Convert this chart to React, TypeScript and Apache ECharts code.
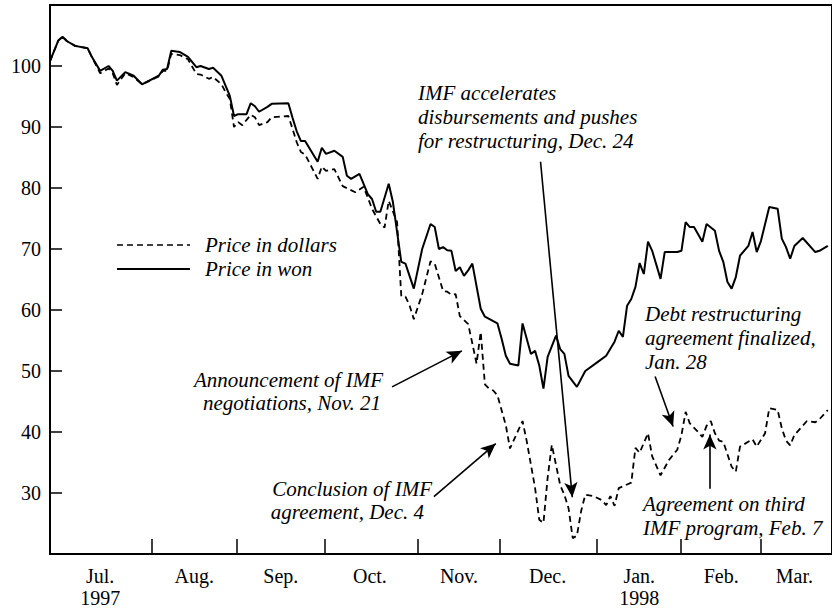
import React, { useEffect, useRef } from "react";
import * as echarts from "echarts";

// Trading-day index (0 = start of July 1997) and index value
const wonDays = [0,2,3,4,6,9,10,12,14,15,16,18,20,22,26,27,28,29,31,33,35,36,38,39,41,43,44,45,47,48,49,50,52,53,57,58,59,60,61,64,65,66,68,70,71,72,74,76,77,78,79,81,82,84,85,87,89,91,92,93,94,95,96,97,98,99,100,101,103,104,107,108,109,110,112,113,115,116,117,118,119,121,122,123,124,126,128,131,133,135,136,137,138,139,140,141,142,143,144,146,147,150,151,152,153,154,156,157,159,160,161,162,163,164,165,167,168,169,170,171,172,174,175,176,177,178,180,183,184,186];
const wonValues = [100.8,104.2,104.8,104.1,103.3,102.9,101.5,99.2,100,99.2,97.6,99,98.4,97,98.4,99.4,99.5,102.5,102.3,101.5,99.8,100,99.5,99.7,98.4,95.1,91.8,92.1,92.1,93.9,93.4,92.5,93.3,93.8,93.9,91.5,89.3,87.7,87.7,84.3,86.6,85.6,86.1,85.1,82,81.5,82.3,79,78.2,76.1,76.1,80.7,77.7,67.9,67.6,63.5,70,74.1,73.6,70,70.3,69.8,69.7,66.4,67,65.6,66.5,67.6,60.2,58.9,57.8,55.3,52.5,51.2,50.9,57.8,52.8,53.3,50.9,47.1,52.3,55.8,53.6,52.8,49.2,47.4,50,51.5,52.5,54.8,56.6,55.6,60.7,61.8,63.8,67.7,65.9,71.2,69.7,65.1,69.5,69.5,69.7,74.4,73.6,73.6,71.2,74.1,73,69.7,67.9,64.6,63.5,65.4,68.9,70.5,72.8,69.5,71.3,74.1,76.9,76.6,71.7,70.3,68.4,70.5,71.8,69.5,69.7,70.5];

const usdDays = [0,2,3,4,6,9,10,12,14,15,16,18,20,22,26,27,28,29,31,33,35,36,38,39,41,42,43,44,45,46,48,49,50,52,53,57,58,59,60,61,64,65,66,68,70,73,75,77,79,80,81,83,84,85,86,87,89,91,92,94,95,96,97,98,100,101,102,103,104,105,106,107,109,110,113,114,116,117,118,119,120,122,123,124,125,126,127,128,130,132,133,134,135,136,138,139,140,141,143,144,146,148,150,151,152,153,155,156,157,158,159,160,161,163,164,165,166,168,169,171,172,174,175,176,177,178,181,183,184,186];
const usdValues = [100.8,104.2,104.8,104.1,103.3,102.9,101.5,98.8,99.6,98.8,96.9,98.8,98.2,97,98.3,99.2,99.2,102,101.8,101.1,98.7,98.6,97.9,98.2,97,95.7,94.6,90,90.8,90.3,92,91.6,90.3,90.8,91.6,91.8,89.7,87.5,85.9,85.5,81.5,83.5,82.8,83.1,80.3,79.3,80.2,76.6,74.1,73.5,77.9,74.4,62.3,62.2,60.7,58.5,62.6,68,67.6,63.1,63,62.5,62.6,59,57.7,54.5,51.2,56.4,47.8,47.1,46.8,46,41.1,37.3,41.8,38.5,30.8,25.6,25.1,32.5,37.9,31.3,29.7,27.5,22.6,23,27,29.7,29.5,28.8,28,29.5,27.9,30.8,31.4,31.7,37.4,36.6,39.8,36,32.9,35.4,37.1,39.5,43.3,41.4,40,39.2,41,41.8,39.8,38.6,38.4,34.3,33.5,37.6,38,38.8,37.6,39.8,43.9,43.6,40.6,38.6,37.8,39.5,41.8,41.6,42.1,43.6];

// Month boundaries (trading-day index) and label positions
const monthStarts = [24.3, 44.6, 65.8, 88, 107.5, 130.7, 150.9, 170];
const monthLabelPos = [12, 34.5, 55.2, 76.5, 97.8, 119, 140.9, 160.5, 178];
const monthLabels = ["Jul.\n1997", "Aug.", "Sep.", "Oct.", "Nov.", "Dec.", "Jan.\n1998", "Feb.", "Mar."];
const yTicks = [30, 40, 50, 60, 70, 80, 90, 100];

// Annotation arrows: [fromDay, fromValue, toDay, toValue]
const arrows = [
  [81.8, 47.4, 98.5, 53.3],
  [91.8, 29.4, 106.6, 38.1],
  [117.3, 84.3, 124.9, 29.3],
  [144.7, 49.1, 149.0, 40.9],
  [157.8, 30.7, 157.8, 39.6],
];

const SERIF = '"Liberation Serif", "Times New Roman", serif';

function txt(text: string, x: number, y: number, align: string = "left") {
  return {
    type: "text",
    silent: true,
    style: {
      text,
      x,
      y,
      fill: "#000",
      fontFamily: SERIF,
      fontStyle: "italic",
      fontSize: 21,
      align,
      textAlign: align,
      verticalAlign: "middle",
      textVerticalAlign: "middle",
    },
  };
}

export default function App() {
  const ref = useRef<HTMLDivElement>(null);
  useEffect(() => {
    if (!ref.current) return;
    const chart = echarts.init(ref.current, undefined, { renderer: "svg" });
    const won = wonDays.map((d, i) => [d, wonValues[i]]);
    const usd = usdDays.map((d, i) => [d, usdValues[i]]);
    const option: any = {
      animation: false,
      backgroundColor: "#fff",
      grid: {
        left: 50,
        right: -2,
        top: 5,
        bottom: 53,
        show: true,
        borderColor: "#000",
        borderWidth: 2,
        containLabel: false,
      },
      xAxis: {
        type: "value",
        min: 0,
        max: 187,
        axisLine: { show: true, lineStyle: { color: "#000", width: 2 } },
        axisTick: {
          show: true,
          inside: true,
          length: 15,
          customValues: monthStarts,
          lineStyle: { color: "#000", width: 1.5 },
        },
        axisLabel: {
          show: true,
          customValues: monthLabelPos,
          formatter: (v: number) => {
            const i = monthLabelPos.indexOf(v);
            return i >= 0 ? monthLabels[i] : "";
          },
          color: "#000",
          fontFamily: SERIF,
          fontSize: 20,
          lineHeight: 22,
          margin: 11,
        },
        splitLine: { show: false },
      },
      yAxis: {
        type: "value",
        min: 20,
        max: 110,
        interval: 10,
        axisLine: { show: true, lineStyle: { color: "#000", width: 2 } },
        axisTick: {
          show: true,
          inside: true,
          length: 12,
          customValues: yTicks,
          lineStyle: { color: "#000", width: 1.5 },
        },
        axisLabel: {
          show: true,
          customValues: yTicks,
          color: "#000",
          fontFamily: SERIF,
          fontSize: 20,
          margin: 9,
        },
        splitLine: { show: false },
      },
      series: [
        {
          name: "Price in dollars",
          type: "line",
          data: usd,
          showSymbol: false,
          symbol: "none",
          lineStyle: { color: "#000", width: 1.8, type: [6, 4] },
          silent: true,
        },
        {
          name: "Price in won",
          type: "line",
          data: won,
          showSymbol: false,
          symbol: "none",
          lineStyle: { color: "#000", width: 2 },
          silent: true,
          markLine: {
            silent: true,
            symbol: ["none", "arrow"],
            symbolSize: [10, 15],
            label: { show: false },
            lineStyle: { color: "#000", width: 1.6, type: "solid" },
            itemStyle: { color: "#000" },
            data: arrows.map((a) => [
              { coord: [a[0], a[1]] },
              { coord: [a[2], a[3]] },
            ]),
          },
        },
      ],
      graphic: [
        {
          type: "line",
          silent: true,
          shape: { x1: 117, y1: 245, x2: 190, y2: 245 },
          style: { stroke: "#000", lineWidth: 1.6, lineDash: [6, 4] },
        },
        {
          type: "line",
          silent: true,
          shape: { x1: 117, y1: 269, x2: 190, y2: 269 },
          style: { stroke: "#000", lineWidth: 2 },
        },
        txt("Price in dollars", 205, 245),
        txt("Price in won", 205, 269),
        txt("IMF accelerates", 418, 93),
        txt("disbursements and pushes", 418, 117),
        txt("for restructuring, Dec. 24", 418, 141),
        txt("Announcement of IMF", 383, 380, "right"),
        txt("negotiations, Nov. 21", 381, 403, "right"),
        txt("Conclusion of IMF", 432, 489, "right"),
        txt("agreement, Dec. 4", 424, 512, "right"),
        txt("Debt restructuring", 645, 314),
        txt("agreement finalized,", 645, 338),
        txt("Jan. 28", 645, 362),
        txt("Agreement on third", 643, 504),
        txt("IMF program, Feb. 7", 643, 528),
      ],
    };
    chart.setOption(option);
    return () => chart.dispose();
  }, []);
  return (
    <div
      ref={ref}
      style={{ position: "absolute", left: 0, top: 0, width: 832, height: 609 }}
    />
  );
}
